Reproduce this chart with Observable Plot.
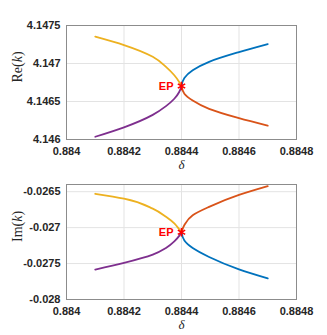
<!DOCTYPE html>
<html><head><meta charset="utf-8">
<script src="https://cdn.jsdelivr.net/npm/d3@7"></script>
<script src="https://cdn.jsdelivr.net/npm/@observablehq/plot@0.6"></script>
<style>
body{margin:0;background:#fff;}
#c{width:327px;}
svg{display:block;overflow:visible;}
</style></head>
<body><div id="c"></div>
<script>
// ---- data ----
const xTicks = [0.884, 0.8842, 0.8844, 0.8846, 0.8848];
const reTicks = [4.146, 4.1465, 4.147, 4.1475];
const imTicks = [-0.028, -0.0275, -0.027, -0.0265];

const deltaLeft  = [0.8841, 0.8842, 0.8843, 0.884346, 0.884375, 0.884392, 0.8844];
const deltaRight = [0.8844, 0.88441, 0.884439, 0.884496, 0.8846, 0.8847];

const reYellow = [4.147354, 4.147243, 4.147089, 4.146956, 4.146845, 4.146757, 4.146704];
const rePurple = [4.146036, 4.146160, 4.146324, 4.146439, 4.146536, 4.146625, 4.146704];
const reBlue   = [4.146704, 4.146810, 4.146911, 4.147022, 4.147150, 4.147256];
const reOrange = [4.146704, 4.146602, 4.146513, 4.146403, 4.146280, 4.146182];

const imYellow = [-0.026529, -0.026597, -0.026735, -0.026849, -0.026941, -0.027023, -0.027065];
const imPurple = [-0.027583, -0.027491, -0.027376, -0.027284, -0.027192, -0.027115, -0.027065];
const imOrange = [-0.027065, -0.026964, -0.026827, -0.026711, -0.026545, -0.026423];
const imBlue   = [-0.027065, -0.027179, -0.027284, -0.027408, -0.027580, -0.027706];

const epDelta = 0.8844, epRe = 4.146704, epIm = -0.027065;

const colors = {blue:"#0072BD", orange:"#D95319", yellow:"#EDB120", purple:"#7E2F8E"};

function series(xs, ys, name){ return xs.map((x,i)=>({x, y: ys[i], s: name})); }

function panel(opts){
  const {height, mt, mb, yDomain, yTicks, lines, ep, ylabel} = opts;
  const data = lines.flatMap(([xs, ys, name]) => series(xs, ys, name));
  return Plot.plot({
    width: 327, height, marginTop: mt, marginBottom: mb, marginLeft: 66, marginRight: 31,
    style: {fontFamily: "Liberation Sans, Arial, sans-serif", fontSize: "11px", fontWeight: "bold", color: "#262626", background: "#fff", overflow: "visible"},
    x: {domain: [0.884, 0.8848]},
    y: {domain: yDomain},
    marks: [
      Plot.gridX(xTicks, {stroke: "#e3e3e3", strokeOpacity: 1}),
      Plot.gridY(yTicks, {stroke: "#e3e3e3", strokeOpacity: 1}),
      Plot.axisX(xTicks, {tickSize: 0, tickPadding: 8, tickFormat: d => String(d), label: null, fill: "#262626"}),
      Plot.axisY(yTicks, {tickSize: 0, tickPadding: 6, tickFormat: d => String(d), label: null, fill: "#262626"}),
      Plot.frame({stroke: "#8c8c8c", strokeWidth: 1}),
      Plot.line(data, {x: "x", y: "y", z: "s", stroke: d => colors[d.s], strokeWidth: 1.8, curve: "monotone-y"}),
      Plot.dot([ep], {x: d => d[0], y: d => d[1], symbol: "asterisk", stroke: "#ff0000", r: 4, strokeWidth: 1.6}),
      Plot.text([ep], {x: d => d[0], y: d => d[1], text: () => "EP", textAnchor: "end", dx: -8, fill: "#ff0000", fontWeight: "bold", fontSize: 11}),
      Plot.text(["δ"], {frameAnchor: "bottom", lineAnchor: "top", dy: 20, fontFamily: "Liberation Serif, serif", fontStyle: "italic", fontWeight: "normal", fontSize: 13, fill: "#262626"}),
      Plot.text([ylabel], {frameAnchor: "left", lineAnchor: "middle", dx: -49, rotate: -90, fontFamily: "Liberation Serif, serif", fontWeight: "normal", fontSize: 14, fill: "#262626"})
    ]
  });
}

const topPanel = panel({
  height: 172, mt: 25, mb: 33, yDomain: [4.146, 4.1475], yTicks: reTicks, ylabel: "Re(k)",
  lines: [[deltaLeft, reYellow, "yellow"], [deltaLeft, rePurple, "purple"], [deltaRight, reBlue, "blue"], [deltaRight, reOrange, "orange"]],
  ep: [epDelta, epRe]
});
const bottomPanel = panel({
  height: 163, mt: 12, mb: 36, yDomain: [-0.028, -0.0264], yTicks: imTicks, ylabel: "Im(k)",
  lines: [[deltaLeft, imYellow, "yellow"], [deltaLeft, imPurple, "purple"], [deltaRight, imOrange, "orange"], [deltaRight, imBlue, "blue"]],
  ep: [epDelta, epIm]
});
const c = document.getElementById("c");
c.append(topPanel, bottomPanel);
// italic k in axis labels
c.querySelectorAll("text").forEach(t => {
  const s = t.textContent;
  if (s === "Re(k)" || s === "Im(k)") {
    const pre = s.slice(0, 2);
    t.textContent = "";
    const ns = "http://www.w3.org/2000/svg";
    const a = document.createElementNS(ns, "tspan"); a.textContent = pre + "(";
    const b = document.createElementNS(ns, "tspan"); b.textContent = "k"; b.setAttribute("font-style", "italic");
    const d = document.createElementNS(ns, "tspan"); d.textContent = ")";
    t.append(a, b, d);
  }
});
</script>
</body></html>
